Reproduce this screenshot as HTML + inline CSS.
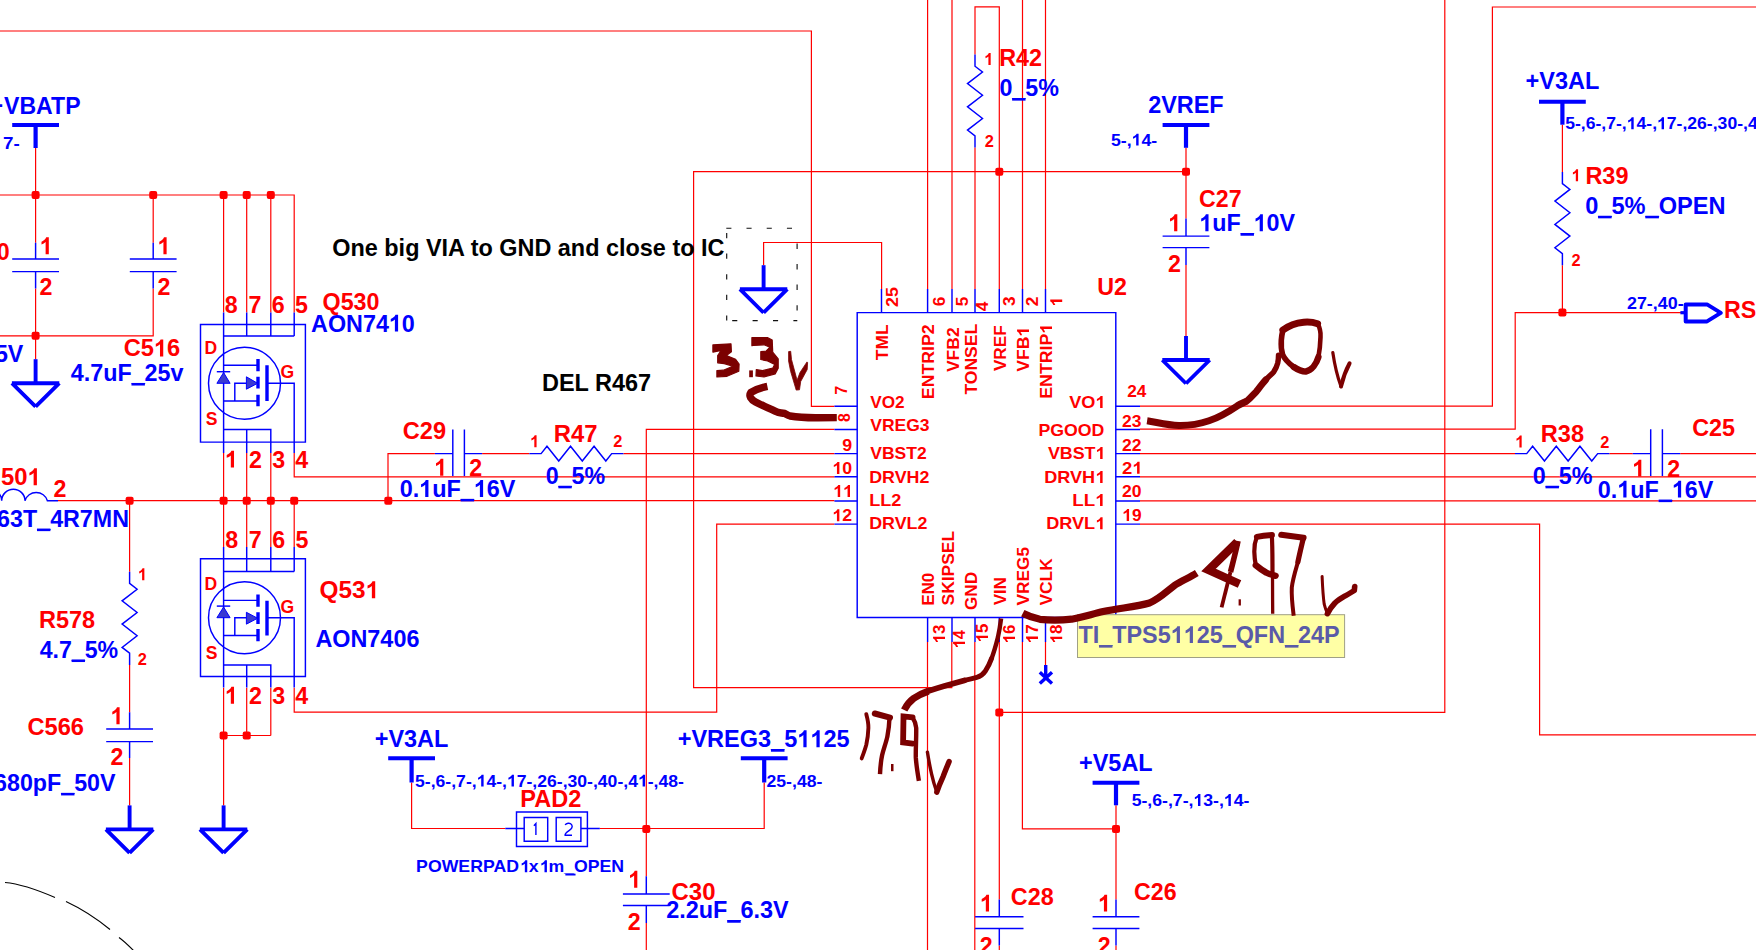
<!DOCTYPE html>
<html><head><meta charset="utf-8"><title>Schematic</title>
<style>
html,body{margin:0;padding:0;background:#fff;overflow:hidden}
svg{display:block}
text{font-family:"Liberation Sans",sans-serif;white-space:pre}
</style></head><body>
<svg width="1756" height="950" viewBox="0 0 1756 950">
<rect width="1756" height="950" fill="#ffffff"/>
<path d="M0,31H811.4V406.3H834.4M35.6,148V242.7M35.6,288.4V359.2M0,195H294.2V312.6M153.2,195V242.7M153.2,288.4V335.8H0M223.6,195V312.6M246.7,195V312.6M270.8,195V312.6M223.6,453V547M246.7,453V547M270.8,453V547M294.2,453V476.9H834.4M294.2,500.7V547M58,500.7H834.4M129.6,500.7V571.7M129.6,664.9V712.3M129.6,758V805.4M246.7,687.8V735.5M270.8,687.8V735.5M223.6,687.8V805.4M223.6,735.5H270.8M294.2,687.8V712.2H716.7V524.1H834.4M388,500.7V453.6H434.9M482.1,453.6H529.4M623.4,453.6H834.4M834.4,429.4H646.3V876.2M646.3,923V950M1186,171.7H693.6V687.7H951.8V642M763.6,265.2V242.5H881.6V288.9M927.6,0V289M952,0V289M975,54.5V6.9H999.3V289M975,147.6V289M1022.5,0V289M1045.5,0V289M1186,147.8V218.4M1186,265V336M1140,406.2H1492.4V7H1756M1140,429.2H1515.2V312.6H1684M1140,453.6H1515M1609.4,453.6H1632.8M1680.2,453.6H1756M1140,476.8H1756M1140,500.9H1756M1140,524.1H1539.6V734.8H1756M1444.8,0V712.4H999.3M1562.4,124.7V171.9M1562.4,265.3V312.6M927.5,642V950M974.8,642V950M999.3,642V899.5M999.3,945.5V950M1022.4,642V828.9H1116M1045.5,642V665M1116,805.3V899.5M1116,945.5V950M411.6,782.5V828.5H505.3M599.8,828.5H764.2V782.5" stroke="#ff0000" stroke-width="1.2" fill="none" />
<rect x="31.60" y="191.00" width="8.0" height="8.0" rx="2" fill="#ff0000"/>
<rect x="149.20" y="191.00" width="8.0" height="8.0" rx="2" fill="#ff0000"/>
<rect x="219.60" y="191.00" width="8.0" height="8.0" rx="2" fill="#ff0000"/>
<rect x="242.70" y="191.00" width="8.0" height="8.0" rx="2" fill="#ff0000"/>
<rect x="266.80" y="191.00" width="8.0" height="8.0" rx="2" fill="#ff0000"/>
<rect x="31.60" y="331.80" width="8.0" height="8.0" rx="2" fill="#ff0000"/>
<rect x="125.60" y="496.70" width="8.0" height="8.0" rx="2" fill="#ff0000"/>
<rect x="219.60" y="496.70" width="8.0" height="8.0" rx="2" fill="#ff0000"/>
<rect x="242.70" y="496.70" width="8.0" height="8.0" rx="2" fill="#ff0000"/>
<rect x="266.80" y="496.70" width="8.0" height="8.0" rx="2" fill="#ff0000"/>
<rect x="290.20" y="496.70" width="8.0" height="8.0" rx="2" fill="#ff0000"/>
<rect x="384.30" y="496.70" width="8.0" height="8.0" rx="2" fill="#ff0000"/>
<rect x="219.60" y="731.50" width="8.0" height="8.0" rx="2" fill="#ff0000"/>
<rect x="242.70" y="731.50" width="8.0" height="8.0" rx="2" fill="#ff0000"/>
<rect x="642.30" y="825.00" width="8.0" height="8.0" rx="2" fill="#ff0000"/>
<rect x="995.30" y="167.70" width="8.0" height="8.0" rx="2" fill="#ff0000"/>
<rect x="1182.00" y="167.70" width="8.0" height="8.0" rx="2" fill="#ff0000"/>
<rect x="1558.40" y="308.60" width="8.0" height="8.0" rx="2" fill="#ff0000"/>
<rect x="995.30" y="708.40" width="8.0" height="8.0" rx="2" fill="#ff0000"/>
<rect x="1112.00" y="824.90" width="8.0" height="8.0" rx="2" fill="#ff0000"/>
<path d="M12.200000000000003,125H59.0" stroke="#0000ff" stroke-width="4" fill="none" />
<path d="M35.6,125V148" stroke="#0000ff" stroke-width="4.2" fill="none" />
<path d="M1162.6,125H1209.4" stroke="#0000ff" stroke-width="4" fill="none" />
<path d="M1186,125V147.8" stroke="#0000ff" stroke-width="4.2" fill="none" />
<path d="M1539.0,101.8H1585.8000000000002" stroke="#0000ff" stroke-width="4" fill="none" />
<path d="M1562.4,101.8V124.7" stroke="#0000ff" stroke-width="4.2" fill="none" />
<path d="M388.20000000000005,758.3H435.0" stroke="#0000ff" stroke-width="4" fill="none" />
<path d="M411.6,758.3V782.5" stroke="#0000ff" stroke-width="4.2" fill="none" />
<path d="M740.8000000000001,758.3H787.6" stroke="#0000ff" stroke-width="4" fill="none" />
<path d="M764.2,758.3V782.5" stroke="#0000ff" stroke-width="4.2" fill="none" />
<path d="M1092.6,782.8H1139.4" stroke="#0000ff" stroke-width="4" fill="none" />
<path d="M1116,782.8V805.3" stroke="#0000ff" stroke-width="4.2" fill="none" />
<path d="M35.6,359.2V383.2" stroke="#0000ff" stroke-width="3.9" fill="none" />
<path d="M11.900000000000002,383.2H59.3M11.900000000000002,383.2L35.6,406.7M59.3,383.2L35.6,406.7" stroke="#0000ff" stroke-width="3.85" fill="none" />
<path d="M763.6,265.2V289.2" stroke="#0000ff" stroke-width="3.9" fill="none" />
<path d="M739.9,289.2H787.3000000000001M739.9,289.2L763.6,312.7M787.3000000000001,289.2L763.6,312.7" stroke="#0000ff" stroke-width="3.85" fill="none" />
<path d="M1186,336V360" stroke="#0000ff" stroke-width="3.9" fill="none" />
<path d="M1162.3,360H1209.7M1162.3,360L1186,383.5M1209.7,360L1186,383.5" stroke="#0000ff" stroke-width="3.85" fill="none" />
<path d="M129.6,805.4V829.4" stroke="#0000ff" stroke-width="3.9" fill="none" />
<path d="M105.89999999999999,829.4H153.29999999999998M105.89999999999999,829.4L129.6,852.9M153.29999999999998,829.4L129.6,852.9" stroke="#0000ff" stroke-width="3.85" fill="none" />
<path d="M223.6,805.4V829.4" stroke="#0000ff" stroke-width="3.9" fill="none" />
<path d="M199.9,829.4H247.29999999999998M199.9,829.4L223.6,852.9M247.29999999999998,829.4L223.6,852.9" stroke="#0000ff" stroke-width="3.85" fill="none" />
<path d="M35.6,242.7V259M12.200000000000003,259H59.0M12.200000000000003,271.6H59.0M35.6,271.6V288.4" stroke="#0000ff" stroke-width="1.45" fill="none" />
<path d="M153.2,242.7V259M129.79999999999998,259H176.6M129.79999999999998,271.6H176.6M153.2,271.6V288.4" stroke="#0000ff" stroke-width="1.45" fill="none" />
<path d="M129.6,712.3V729M106.19999999999999,729H153.0M106.19999999999999,741.6H153.0M129.6,741.6V758" stroke="#0000ff" stroke-width="1.45" fill="none" />
<path d="M1186,218.4V236.1M1162.6,236.1H1209.4M1162.6,247.6H1209.4M1186,247.6V265" stroke="#0000ff" stroke-width="1.45" fill="none" />
<path d="M646.3,876.2V893.9M622.9,893.9H669.6999999999999M622.9,905.5H669.6999999999999M646.3,905.5V923" stroke="#0000ff" stroke-width="1.45" fill="none" />
<path d="M999.3,899.5V916.7M975.0999999999999,916.7H1023.5M975.0999999999999,928.5H1023.5M999.3,928.5V945.5" stroke="#0000ff" stroke-width="1.45" fill="none" />
<path d="M1116,899.5V916.7M1092.6,916.7H1139.4M1092.6,928.5H1139.4M1116,928.5V945.5" stroke="#0000ff" stroke-width="1.45" fill="none" />
<path d="M434.9,453.6H452.8M452.8,429.5V476M464.4,429.5V476M464.4,453.6H482.1" stroke="#0000ff" stroke-width="1.45" fill="none" />
<path d="M1632.8,453.6H1650.7M1650.7,429.3V476M1662.4,429.3V476M1662.4,453.6H1680.2" stroke="#0000ff" stroke-width="1.45" fill="none" />
<path d="M129.60,571.70L129.60,583.40L137.10,589.22L122.10,600.85L137.10,612.48L122.10,624.12L137.10,635.75L122.10,647.38L129.60,653.20L129.60,664.90" stroke="#0000ff" stroke-width="1.45" fill="none" stroke-linejoin="miter"/>
<path d="M975.00,54.50L975.00,66.20L982.50,72.01L967.50,83.62L982.50,95.24L967.50,106.86L982.50,118.48L967.50,130.09L975.00,135.90L975.00,147.60" stroke="#0000ff" stroke-width="1.45" fill="none" stroke-linejoin="miter"/>
<path d="M1562.40,171.90L1562.40,183.60L1569.90,189.43L1554.90,201.10L1569.90,212.77L1554.90,224.43L1569.90,236.10L1554.90,247.77L1562.40,253.60L1562.40,265.30" stroke="#0000ff" stroke-width="1.45" fill="none" stroke-linejoin="miter"/>
<path d="M529.40,453.60L541.10,453.60L546.98,446.20L558.75,461.00L570.52,446.20L582.28,461.00L594.05,446.20L605.82,461.00L611.70,453.60L623.40,453.60" stroke="#0000ff" stroke-width="1.45" fill="none" />
<path d="M1515.00,453.60L1526.70,453.60L1532.62,446.20L1544.45,461.00L1556.28,446.20L1568.12,461.00L1579.95,446.20L1591.78,461.00L1597.70,453.60L1609.40,453.60" stroke="#0000ff" stroke-width="1.45" fill="none" />
<path d="M-21.6,500.7A11.65,11.4 0 0 1 1.7,500.7A11.65,11.4 0 0 1 25,500.7A11.65,11.4 0 0 1 47.4,500.7H58" stroke="#0000ff" stroke-width="1.45" fill="none" />
<g transform="translate(0,0)">
<path d="M200.5,324.4H305.4V442.1H200.5Z" stroke="#0000ff" stroke-width="1.45" fill="none" />
<path d="M223.6,312.6V453M246.7,312.6V336M270.8,312.6V336M294.2,312.6V336M223.6,336H294.2" stroke="#0000ff" stroke-width="1.45" fill="none" />
<path d="M223.6,429.5H270.8V453M246.7,429.5V453M267,383.3H294.2V453" stroke="#0000ff" stroke-width="1.45" fill="none" />
<circle cx="244.5" cy="383.3" r="36" stroke="#0000ff" stroke-width="1.45" fill="none"/>
<path d="M258,359V371.2M258,376.8V388.6M258,394.7V406.3M267,365.3V401" stroke="#0000ff" stroke-width="3.4" fill="none" />
<path d="M223.6,365.3H258M223.6,401H258M234.8,401V383.3H246.4" stroke="#0000ff" stroke-width="1.45" fill="none" />
<path d="M246.4,376.8L257.6,383.3L246.4,389.2Z" stroke="#0000ff" stroke-width="1" fill="#3a3ad2" />
<path d="M216.8,371.7H230.2" stroke="#0000ff" stroke-width="1.45" fill="none" />
<path d="M216.9,383.3H230.1L223.6,372.6Z" stroke="#0000ff" stroke-width="1" fill="#3a3ad2" />
<text transform="translate(204.62,354.10) scale(0.9500,1)" font-size="18.5" fill="#ff0000" font-weight="bold">D</text>
<text transform="translate(280.48,378.00) scale(0.9500,1)" font-size="18.5" fill="#ff0000" font-weight="bold">G</text>
<text transform="translate(205.69,424.70) scale(0.9500,1)" font-size="18.5" fill="#ff0000" font-weight="bold">S</text>
</g>
<g transform="translate(0,234.4)">
<path d="M200.5,324.4H305.4V442.1H200.5Z" stroke="#0000ff" stroke-width="1.45" fill="none" />
<path d="M223.6,312.6V453M246.7,312.6V337.1M270.8,312.6V337.1M294.2,312.6V337.1M223.6,337.1H294.2" stroke="#0000ff" stroke-width="1.45" fill="none" />
<path d="M223.6,430.6H270.8V453M246.7,430.6V453M267,383.3H294.2V453" stroke="#0000ff" stroke-width="1.45" fill="none" />
<circle cx="244.5" cy="383.3" r="36" stroke="#0000ff" stroke-width="1.45" fill="none"/>
<path d="M258,360.1V372.3M258,377.90000000000003V389.70000000000005M258,394.7V406.85M267,366.40000000000003V401" stroke="#0000ff" stroke-width="3.4" fill="none" />
<path d="M223.6,365.96000000000004H258M223.6,401H258M234.8,401V383.3H246.4" stroke="#0000ff" stroke-width="1.45" fill="none" />
<path d="M246.4,377.90000000000003L257.6,383.85L246.4,389.75Z" stroke="#0000ff" stroke-width="1" fill="#3a3ad2" />
<path d="M216.8,371.7H230.2" stroke="#0000ff" stroke-width="1.45" fill="none" />
<path d="M216.9,383.3H230.1L223.6,372.6Z" stroke="#0000ff" stroke-width="1" fill="#3a3ad2" />
<text transform="translate(204.62,355.20) scale(0.9500,1)" font-size="18.5" fill="#ff0000" font-weight="bold">D</text>
<text transform="translate(280.48,378.37) scale(0.9500,1)" font-size="18.5" fill="#ff0000" font-weight="bold">G</text>
<text transform="translate(205.69,425.07) scale(0.9500,1)" font-size="18.5" fill="#ff0000" font-weight="bold">S</text>
</g>
<path d="M857.2,312.6H1115.8V617.5H857.2Z" stroke="#0000ff" stroke-width="1.45" fill="none" />
<path d="M834.4,406.3H857.2M1115.8,406.3H1140" stroke="#0000ff" stroke-width="1.45" fill="none" />
<path d="M834.4,429.4H857.2M1115.8,429.4H1140" stroke="#0000ff" stroke-width="1.45" fill="none" />
<path d="M834.4,453.6H857.2M1115.8,453.6H1140" stroke="#0000ff" stroke-width="1.45" fill="none" />
<path d="M834.4,476.8H857.2M1115.8,476.8H1140" stroke="#0000ff" stroke-width="1.45" fill="none" />
<path d="M834.4,500.9H857.2M1115.8,500.9H1140" stroke="#0000ff" stroke-width="1.45" fill="none" />
<path d="M834.4,524.1H857.2M1115.8,524.1H1140" stroke="#0000ff" stroke-width="1.45" fill="none" />
<path d="M881.5,289V312.6" stroke="#0000ff" stroke-width="1.45" fill="none" />
<path d="M927.6,289V312.6" stroke="#0000ff" stroke-width="1.45" fill="none" />
<path d="M952,289V312.6" stroke="#0000ff" stroke-width="1.45" fill="none" />
<path d="M975,289V312.6" stroke="#0000ff" stroke-width="1.45" fill="none" />
<path d="M999.3,289V312.6" stroke="#0000ff" stroke-width="1.45" fill="none" />
<path d="M1022.5,289V312.6" stroke="#0000ff" stroke-width="1.45" fill="none" />
<path d="M1045.5,289V312.6" stroke="#0000ff" stroke-width="1.45" fill="none" />
<path d="M927.6,617.5V642" stroke="#0000ff" stroke-width="1.45" fill="none" />
<path d="M952,617.5V642" stroke="#0000ff" stroke-width="1.45" fill="none" />
<path d="M975,617.5V642" stroke="#0000ff" stroke-width="1.45" fill="none" />
<path d="M999.3,617.5V642" stroke="#0000ff" stroke-width="1.45" fill="none" />
<path d="M1022.5,617.5V642" stroke="#0000ff" stroke-width="1.45" fill="none" />
<path d="M1045.5,617.5V642" stroke="#0000ff" stroke-width="1.45" fill="none" />
<path d="M1045.7,665V677.5M1039.8,672.2L1052,683.4M1052,672.2L1039.8,683.4" stroke="#0000ff" stroke-width="3.4" fill="none" />
<path d="M505.3,828.5H524.2M580.9,828.5H599.8M516.5,812H587.4V846.4H516.5ZM524.2,817.4H547.7V841.3H524.2ZM556.2,817.4H580.9V841.3H556.2Z" stroke="#0000ff" stroke-width="1.45" fill="none" />
<path d="M1680.4,312.7H1685.6" stroke="#0000ff" stroke-width="3.2" fill="none" />
<path d="M1685.7,304.4H1707L1720.8,312.9L1707,321.4H1685.7Z" stroke="#0000ff" stroke-width="4" fill="none" stroke-linejoin="round"/>
<path d="M726.3,228.3H797.2" stroke="#111" stroke-width="1.05" fill="none" stroke-dasharray="5.1 15.1"/>
<path d="M726.7,320.6V228.3" stroke="#111" stroke-width="1.15" fill="none" stroke-dasharray="5.2 15.4"/>
<path d="M797.3,320.6H726.7" stroke="#111" stroke-width="1.05" fill="none" stroke-dasharray="5.1 15.3" stroke-dashoffset="1.2"/>
<path d="M797.1,228.3V320.6" stroke="#111" stroke-width="1.15" fill="none" stroke-dasharray="5.4 15.15" stroke-dashoffset="5.35"/>
<path d="M5,882.5C22,884 40,891 55,897.5M66,901.5C82,909 96,918 110,929.5M119,937.5C124,941 129,946 134,951" stroke="#000000" stroke-width="1.1" fill="none" />
<text transform="translate(4.04,114.00) scale(0.9423,1)" font-size="24.5" fill="#0000ff" font-weight="bold">VBATP</text>
<text transform="translate(-10.48,114.00) scale(0.9500,1)" font-size="24.5" fill="#0000ff" font-weight="bold">+</text>
<text transform="translate(2.99,149.30) scale(1.0899,1)" font-size="17.3" fill="#0000ff" font-weight="bold">7-</text>
<path transform="translate(-16.13,259.60) scale(0.01136,-0.01150)" d="M806,0L525,0L525,1059Q371,915 162,846L162,1101Q272,1137 401,1237.5Q530,1338 578,1472L806,1472Z" fill="#ff0000"/>
<text transform="translate(-45.89,259.60) scale(0.9500,1)" font-size="24.5" fill="#ff0000" font-weight="bold">C5  0</text>
<path transform="translate(39.66,254.30) scale(0.01136,-0.01150)" d="M806,0L525,0L525,1059Q371,915 162,846L162,1101Q272,1137 401,1237.5Q530,1338 578,1472L806,1472Z" fill="#ff0000"/>
<text transform="translate(39.59,294.60) scale(0.9500,1)" font-size="24.5" fill="#ff0000" font-weight="bold">2</text>
<path transform="translate(157.46,254.30) scale(0.01136,-0.01150)" d="M806,0L525,0L525,1059Q371,915 162,846L162,1101Q272,1137 401,1237.5Q530,1338 578,1472L806,1472Z" fill="#ff0000"/>
<text transform="translate(157.49,294.60) scale(0.9500,1)" font-size="24.5" fill="#ff0000" font-weight="bold">2</text>
<text transform="translate(-18.05,361.60) scale(0.9500,1)" font-size="24.5" fill="#0000ff" font-weight="bold">25V</text>
<path transform="translate(153.91,356.40) scale(0.01157,-0.01150)" d="M806,0L525,0L525,1059Q371,915 162,846L162,1101Q272,1137 401,1237.5Q530,1338 578,1472L806,1472Z" fill="#ff0000"/>
<text transform="translate(123.63,356.40) scale(0.9668,1)" font-size="24.5" fill="#ff0000" font-weight="bold">C5  6</text>
<text transform="translate(70.75,381.00) scale(0.9524,1)" font-size="24.5" fill="#0000ff" font-weight="bold">4.7uF_25v</text>
<rect x="131.46" y="382.96" width="13.44" height="2.57" fill="#0000ff"/>
<text transform="translate(224.86,312.90) scale(0.9500,1)" font-size="24.5" fill="#ff0000" font-weight="bold">8</text>
<text transform="translate(248.40,312.90) scale(0.9500,1)" font-size="24.5" fill="#ff0000" font-weight="bold">7</text>
<text transform="translate(271.75,312.90) scale(0.9500,1)" font-size="24.5" fill="#ff0000" font-weight="bold">6</text>
<text transform="translate(295.08,312.90) scale(0.9500,1)" font-size="24.5" fill="#ff0000" font-weight="bold">5</text>
<text transform="translate(322.54,310.10) scale(0.9512,1)" font-size="24.5" fill="#ff0000" font-weight="bold">Q530</text>
<path transform="translate(388.91,331.60) scale(0.01139,-0.01150)" d="M806,0L525,0L525,1059Q371,915 162,846L162,1101Q272,1137 401,1237.5Q530,1338 578,1472L806,1472Z" fill="#0000ff"/>
<text transform="translate(311.12,331.60) scale(0.9522,1)" font-size="24.5" fill="#0000ff" font-weight="bold">AON74  0</text>
<path transform="translate(224.86,467.60) scale(0.01136,-0.01150)" d="M806,0L525,0L525,1059Q371,915 162,846L162,1101Q272,1137 401,1237.5Q530,1338 578,1472L806,1472Z" fill="#ff0000"/>
<text transform="translate(248.89,467.60) scale(0.9500,1)" font-size="24.5" fill="#ff0000" font-weight="bold">2</text>
<text transform="translate(272.37,467.60) scale(0.9500,1)" font-size="24.5" fill="#ff0000" font-weight="bold">3</text>
<text transform="translate(295.25,467.60) scale(0.9500,1)" font-size="24.5" fill="#ff0000" font-weight="bold">4</text>
<path transform="translate(27.51,485.30) scale(0.01165,-0.01150)" d="M806,0L525,0L525,1059Q371,915 162,846L162,1101Q272,1137 401,1237.5Q530,1338 578,1472L806,1472Z" fill="#ff0000"/>
<text transform="translate(0.97,485.30) scale(0.9740,1)" font-size="24.5" fill="#ff0000" font-weight="bold">50  </text>
<text transform="translate(53.59,497.10) scale(0.9500,1)" font-size="24.5" fill="#ff0000" font-weight="bold">2</text>
<text transform="translate(-2.88,526.60) scale(0.9500,1)" font-size="24.5" fill="#0000ff" font-weight="bold">63T_4R7MN</text>
<rect x="37.00" y="528.56" width="13.41" height="2.57" fill="#0000ff"/>
<path transform="translate(137.90,580.30) scale(0.00802,-0.00812)" d="M806,0L525,0L525,1059Q371,915 162,846L162,1101Q272,1137 401,1237.5Q530,1338 578,1472L806,1472Z" fill="#ff0000"/>
<text transform="translate(137.83,664.50) scale(0.9500,1)" font-size="17.3" fill="#ff0000" font-weight="bold">2</text>
<text transform="translate(38.93,627.60) scale(0.9595,1)" font-size="24.5" fill="#ff0000" font-weight="bold">R578</text>
<text transform="translate(39.65,657.50) scale(0.9454,1)" font-size="24.5" fill="#0000ff" font-weight="bold">4.7_5%</text>
<rect x="71.62" y="659.46" width="13.35" height="2.57" fill="#0000ff"/>
<text transform="translate(225.26,547.50) scale(0.9500,1)" font-size="24.5" fill="#ff0000" font-weight="bold">8</text>
<text transform="translate(248.80,547.50) scale(0.9500,1)" font-size="24.5" fill="#ff0000" font-weight="bold">7</text>
<text transform="translate(272.15,547.50) scale(0.9500,1)" font-size="24.5" fill="#ff0000" font-weight="bold">6</text>
<text transform="translate(295.48,547.50) scale(0.9500,1)" font-size="24.5" fill="#ff0000" font-weight="bold">5</text>
<path transform="translate(365.62,598.20) scale(0.01189,-0.01150)" d="M806,0L525,0L525,1059Q371,915 162,846L162,1101Q272,1137 401,1237.5Q530,1338 578,1472L806,1472Z" fill="#ff0000"/>
<text transform="translate(319.60,598.20) scale(0.9937,1)" font-size="24.5" fill="#ff0000" font-weight="bold">Q53  </text>
<text transform="translate(315.42,646.90) scale(0.9549,1)" font-size="24.5" fill="#0000ff" font-weight="bold">AON7406</text>
<path transform="translate(224.86,703.80) scale(0.01136,-0.01150)" d="M806,0L525,0L525,1059Q371,915 162,846L162,1101Q272,1137 401,1237.5Q530,1338 578,1472L806,1472Z" fill="#ff0000"/>
<text transform="translate(248.89,703.80) scale(0.9500,1)" font-size="24.5" fill="#ff0000" font-weight="bold">2</text>
<text transform="translate(272.37,703.80) scale(0.9500,1)" font-size="24.5" fill="#ff0000" font-weight="bold">3</text>
<text transform="translate(295.25,703.80) scale(0.9500,1)" font-size="24.5" fill="#ff0000" font-weight="bold">4</text>
<text transform="translate(27.43,735.00) scale(0.9668,1)" font-size="24.5" fill="#ff0000" font-weight="bold">C566</text>
<path transform="translate(110.46,724.30) scale(0.01136,-0.01150)" d="M806,0L525,0L525,1059Q371,915 162,846L162,1101Q272,1137 401,1237.5Q530,1338 578,1472L806,1472Z" fill="#ff0000"/>
<text transform="translate(110.39,764.60) scale(0.9500,1)" font-size="24.5" fill="#ff0000" font-weight="bold">2</text>
<text transform="translate(-5.97,790.90) scale(0.9500,1)" font-size="24.5" fill="#0000ff" font-weight="bold">680pF_50V</text>
<rect x="61.07" y="792.86" width="13.41" height="2.57" fill="#0000ff"/>
<text transform="translate(332.24,255.60) scale(0.9563,1)" font-size="24.5" fill="#000000" font-weight="bold">One big VIA to GND and close to IC</text>
<text transform="translate(541.93,391.20) scale(0.9591,1)" font-size="24.5" fill="#000000" font-weight="bold">DEL R467</text>
<text transform="translate(402.73,439.20) scale(0.9644,1)" font-size="24.5" fill="#ff0000" font-weight="bold">C29</text>
<path transform="translate(434.16,475.80) scale(0.01136,-0.01150)" d="M806,0L525,0L525,1059Q371,915 162,846L162,1101Q272,1137 401,1237.5Q530,1338 578,1472L806,1472Z" fill="#ff0000"/>
<text transform="translate(469.19,475.80) scale(0.9500,1)" font-size="24.5" fill="#ff0000" font-weight="bold">2</text>
<path transform="translate(419.21,496.90) scale(0.01144,-0.01150)" d="M806,0L525,0L525,1059Q371,915 162,846L162,1101Q272,1137 401,1237.5Q530,1338 578,1472L806,1472Z" fill="#0000ff"/>
<path transform="translate(473.88,496.90) scale(0.01144,-0.01150)" d="M806,0L525,0L525,1059Q371,915 162,846L162,1101Q272,1137 401,1237.5Q530,1338 578,1472L806,1472Z" fill="#0000ff"/>
<text transform="translate(399.67,496.90) scale(0.9561,1)" font-size="24.5" fill="#0000ff" font-weight="bold">0.  uF_  6V</text>
<rect x="460.62" y="498.86" width="13.50" height="2.57" fill="#0000ff"/>
<text transform="translate(553.80,442.10) scale(0.9733,1)" font-size="24.5" fill="#ff0000" font-weight="bold">R47</text>
<path transform="translate(530.10,447.30) scale(0.00802,-0.00812)" d="M806,0L525,0L525,1059Q371,915 162,846L162,1101Q272,1137 401,1237.5Q530,1338 578,1472L806,1472Z" fill="#ff0000"/>
<text transform="translate(613.23,447.30) scale(0.9500,1)" font-size="17.3" fill="#ff0000" font-weight="bold">2</text>
<text transform="translate(545.68,483.80) scale(0.9485,1)" font-size="24.5" fill="#0000ff" font-weight="bold">0_5%</text>
<rect x="558.37" y="485.76" width="13.39" height="2.57" fill="#0000ff"/>
<text transform="translate(999.14,66.10) scale(0.9522,1)" font-size="24.5" fill="#ff0000" font-weight="bold">R42</text>
<text transform="translate(999.38,96.10) scale(0.9517,1)" font-size="24.5" fill="#0000ff" font-weight="bold">0_5%</text>
<rect x="1012.11" y="98.06" width="13.43" height="2.57" fill="#0000ff"/>
<path transform="translate(984.20,65.00) scale(0.00802,-0.00812)" d="M806,0L525,0L525,1059Q371,915 162,846L162,1101Q272,1137 401,1237.5Q530,1338 578,1472L806,1472Z" fill="#ff0000"/>
<text transform="translate(984.73,147.10) scale(0.9500,1)" font-size="17.3" fill="#ff0000" font-weight="bold">2</text>
<text transform="translate(1148.19,113.30) scale(0.9557,1)" font-size="24.5" fill="#0000ff" font-weight="bold">2VREF</text>
<path transform="translate(1131.62,145.60) scale(0.00865,-0.00812)" d="M806,0L525,0L525,1059Q371,915 162,846L162,1101Q272,1137 401,1237.5Q530,1338 578,1472L806,1472Z" fill="#0000ff"/>
<text transform="translate(1110.96,145.60) scale(1.0235,1)" font-size="17.3" fill="#0000ff" font-weight="bold">5-,  4-</text>
<text transform="translate(1199.05,206.60) scale(0.9449,1)" font-size="24.5" fill="#ff0000" font-weight="bold">C27</text>
<path transform="translate(1199.36,231.20) scale(0.01137,-0.01150)" d="M806,0L525,0L525,1059Q371,915 162,846L162,1101Q272,1137 401,1237.5Q530,1338 578,1472L806,1472Z" fill="#0000ff"/>
<path transform="translate(1253.72,231.20) scale(0.01137,-0.01150)" d="M806,0L525,0L525,1059Q371,915 162,846L162,1101Q272,1137 401,1237.5Q530,1338 578,1472L806,1472Z" fill="#0000ff"/>
<text transform="translate(1199.36,231.20) scale(0.9506,1)" font-size="24.5" fill="#0000ff" font-weight="bold">  uF_  0V</text>
<rect x="1240.53" y="233.16" width="13.42" height="2.57" fill="#0000ff"/>
<path transform="translate(1168.16,231.20) scale(0.01136,-0.01150)" d="M806,0L525,0L525,1059Q371,915 162,846L162,1101Q272,1137 401,1237.5Q530,1338 578,1472L806,1472Z" fill="#ff0000"/>
<text transform="translate(1167.89,271.90) scale(0.9500,1)" font-size="24.5" fill="#ff0000" font-weight="bold">2</text>
<text transform="translate(1097.20,294.80) scale(0.9492,1)" font-size="24.5" fill="#ff0000" font-weight="bold">U2</text>
<text transform="translate(1525.61,89.20) scale(0.9594,1)" font-size="24.5" fill="#0000ff" font-weight="bold">+V3AL</text>
<path transform="translate(1626.76,129.30) scale(0.00859,-0.00812)" d="M806,0L525,0L525,1059Q371,915 162,846L162,1101Q272,1137 401,1237.5Q530,1338 578,1472L806,1472Z" fill="#0000ff"/>
<path transform="translate(1657.08,129.30) scale(0.00859,-0.00812)" d="M806,0L525,0L525,1059Q371,915 162,846L162,1101Q272,1137 401,1237.5Q530,1338 578,1472L806,1472Z" fill="#0000ff"/>
<path transform="translate(1788.14,129.30) scale(0.00859,-0.00812)" d="M806,0L525,0L525,1059Q371,915 162,846L162,1101Q272,1137 401,1237.5Q530,1338 578,1472L806,1472Z" fill="#0000ff"/>
<text transform="translate(1565.16,129.30) scale(1.0171,1)" font-size="17.3" fill="#0000ff" font-weight="bold">5-,6-,7-,  4-,  7-,26-,30-,40-,4  -,48-</text>
<text transform="translate(1585.43,184.00) scale(0.9576,1)" font-size="24.5" fill="#ff0000" font-weight="bold">R39</text>
<path transform="translate(1571.60,181.30) scale(0.00802,-0.00812)" d="M806,0L525,0L525,1059Q371,915 162,846L162,1101Q272,1137 401,1237.5Q530,1338 578,1472L806,1472Z" fill="#ff0000"/>
<text transform="translate(1571.43,265.60) scale(0.9500,1)" font-size="17.3" fill="#ff0000" font-weight="bold">2</text>
<text transform="translate(1585.17,213.80) scale(0.9637,1)" font-size="24.5" fill="#0000ff" font-weight="bold">0_5%_OPEN</text>
<rect x="1598.06" y="215.76" width="13.60" height="2.57" fill="#0000ff"/>
<rect x="1645.31" y="215.76" width="13.60" height="2.57" fill="#0000ff"/>
<text transform="translate(1626.98,309.00) scale(1.0332,1)" font-size="17.3" fill="#0000ff" font-weight="bold">27-,40-</text>
<text transform="translate(1723.94,318.30) scale(0.9500,1)" font-size="24.5" fill="#ff0000" font-weight="bold">RSMRST#</text>
<text transform="translate(1540.82,442.40) scale(0.9635,1)" font-size="24.5" fill="#ff0000" font-weight="bold">R38</text>
<path transform="translate(1515.20,447.50) scale(0.00802,-0.00812)" d="M806,0L525,0L525,1059Q371,915 162,846L162,1101Q272,1137 401,1237.5Q530,1338 578,1472L806,1472Z" fill="#ff0000"/>
<text transform="translate(1600.23,447.50) scale(0.9500,1)" font-size="17.3" fill="#ff0000" font-weight="bold">2</text>
<text transform="translate(1532.78,483.80) scale(0.9517,1)" font-size="24.5" fill="#0000ff" font-weight="bold">0_5%</text>
<rect x="1545.51" y="485.76" width="13.43" height="2.57" fill="#0000ff"/>
<text transform="translate(1692.24,436.40) scale(0.9547,1)" font-size="24.5" fill="#ff0000" font-weight="bold">C25</text>
<path transform="translate(1632.16,476.60) scale(0.01136,-0.01150)" d="M806,0L525,0L525,1059Q371,915 162,846L162,1101Q272,1137 401,1237.5Q530,1338 578,1472L806,1472Z" fill="#ff0000"/>
<text transform="translate(1667.19,476.60) scale(0.9500,1)" font-size="24.5" fill="#ff0000" font-weight="bold">2</text>
<path transform="translate(1617.29,497.60) scale(0.01143,-0.01150)" d="M806,0L525,0L525,1059Q371,915 162,846L162,1101Q272,1137 401,1237.5Q530,1338 578,1472L806,1472Z" fill="#0000ff"/>
<path transform="translate(1671.92,497.60) scale(0.01143,-0.01150)" d="M806,0L525,0L525,1059Q371,915 162,846L162,1101Q272,1137 401,1237.5Q530,1338 578,1472L806,1472Z" fill="#0000ff"/>
<text transform="translate(1597.77,497.60) scale(0.9553,1)" font-size="24.5" fill="#0000ff" font-weight="bold">0.  uF_  6V</text>
<rect x="1658.67" y="499.56" width="13.48" height="2.57" fill="#0000ff"/>
<text transform="translate(374.71,747.00) scale(0.9581,1)" font-size="24.5" fill="#0000ff" font-weight="bold">+V3AL</text>
<path transform="translate(476.68,786.60) scale(0.00859,-0.00812)" d="M806,0L525,0L525,1059Q371,915 162,846L162,1101Q272,1137 401,1237.5Q530,1338 578,1472L806,1472Z" fill="#0000ff"/>
<path transform="translate(507.01,786.60) scale(0.00859,-0.00812)" d="M806,0L525,0L525,1059Q371,915 162,846L162,1101Q272,1137 401,1237.5Q530,1338 578,1472L806,1472Z" fill="#0000ff"/>
<path transform="translate(638.12,786.60) scale(0.00859,-0.00812)" d="M806,0L525,0L525,1059Q371,915 162,846L162,1101Q272,1137 401,1237.5Q530,1338 578,1472L806,1472Z" fill="#0000ff"/>
<text transform="translate(415.06,786.60) scale(1.0174,1)" font-size="17.3" fill="#0000ff" font-weight="bold">5-,6-,7-,  4-,  7-,26-,30-,40-,4  -,48-</text>
<text transform="translate(520.32,807.10) scale(0.9628,1)" font-size="24.5" fill="#ff0000" font-weight="bold">PAD2</text>
<path transform="translate(520.29,872.30) scale(0.00864,-0.00812)" d="M806,0L525,0L525,1059Q371,915 162,846L162,1101Q272,1137 401,1237.5Q530,1338 578,1472L806,1472Z" fill="#0000ff"/>
<path transform="translate(539.96,872.30) scale(0.00864,-0.00812)" d="M806,0L525,0L525,1059Q371,915 162,846L162,1101Q272,1137 401,1237.5Q530,1338 578,1472L806,1472Z" fill="#0000ff"/>
<text transform="translate(416.12,872.30) scale(1.0224,1)" font-size="17.3" fill="#0000ff" font-weight="bold">POWERPAD  x  m_OPEN</text>
<rect x="565.35" y="873.68" width="10.19" height="1.82" fill="#0000ff"/>
<path d="M533.9,825.8L535.9,823.5V834.9" stroke="#0000ff" stroke-width="1.4" fill="none" />
<path d="M565.2,825C566,823.2 570,822.4 571.6,824.6C573.2,826.8 571.4,829 569,830.6C566.4,832.3 564.7,833.6 565.1,835.3H572" stroke="#0000ff" stroke-width="1.4" fill="none" />
<path transform="translate(797.34,747.20) scale(0.01148,-0.01150)" d="M806,0L525,0L525,1059Q371,915 162,846L162,1101Q272,1137 401,1237.5Q530,1338 578,1472L806,1472Z" fill="#0000ff"/>
<path transform="translate(810.42,747.20) scale(0.01148,-0.01150)" d="M806,0L525,0L525,1059Q371,915 162,846L162,1101Q272,1137 401,1237.5Q530,1338 578,1472L806,1472Z" fill="#0000ff"/>
<text transform="translate(677.71,747.20) scale(0.9599,1)" font-size="24.5" fill="#0000ff" font-weight="bold">+VREG3_5    25</text>
<rect x="770.94" y="749.16" width="13.55" height="2.57" fill="#0000ff"/>
<text transform="translate(766.49,786.60) scale(1.0201,1)" font-size="17.3" fill="#0000ff" font-weight="bold">25-,48-</text>
<path transform="translate(628.16,887.80) scale(0.01136,-0.01150)" d="M806,0L525,0L525,1059Q371,915 162,846L162,1101Q272,1137 401,1237.5Q530,1338 578,1472L806,1472Z" fill="#ff0000"/>
<text transform="translate(627.79,929.60) scale(0.9500,1)" font-size="24.5" fill="#ff0000" font-weight="bold">2</text>
<text transform="translate(671.52,899.80) scale(0.9782,1)" font-size="24.5" fill="#ff0000" font-weight="bold">C30</text>
<text transform="translate(666.19,918.20) scale(0.9567,1)" font-size="24.5" fill="#0000ff" font-weight="bold">2.2uF_6.3V</text>
<rect x="727.17" y="920.16" width="13.50" height="2.57" fill="#0000ff"/>
<text transform="translate(1079.12,771.10) scale(0.9554,1)" font-size="24.5" fill="#0000ff" font-weight="bold">+V5AL</text>
<path transform="translate(1193.47,806.00) scale(0.00862,-0.00812)" d="M806,0L525,0L525,1059Q371,915 162,846L162,1101Q272,1137 401,1237.5Q530,1338 578,1472L806,1472Z" fill="#0000ff"/>
<path transform="translate(1223.89,806.00) scale(0.00862,-0.00812)" d="M806,0L525,0L525,1059Q371,915 162,846L162,1101Q272,1137 401,1237.5Q530,1338 578,1472L806,1472Z" fill="#0000ff"/>
<text transform="translate(1131.66,806.00) scale(1.0205,1)" font-size="17.3" fill="#0000ff" font-weight="bold">5-,6-,7-,  3-,  4-</text>
<path transform="translate(979.86,911.60) scale(0.01136,-0.01150)" d="M806,0L525,0L525,1059Q371,915 162,846L162,1101Q272,1137 401,1237.5Q530,1338 578,1472L806,1472Z" fill="#ff0000"/>
<text transform="translate(979.69,953.60) scale(0.9500,1)" font-size="24.5" fill="#ff0000" font-weight="bold">2</text>
<text transform="translate(1010.84,904.80) scale(0.9540,1)" font-size="24.5" fill="#ff0000" font-weight="bold">C28</text>
<path transform="translate(1097.96,911.60) scale(0.01136,-0.01150)" d="M806,0L525,0L525,1059Q371,915 162,846L162,1101Q272,1137 401,1237.5Q530,1338 578,1472L806,1472Z" fill="#ff0000"/>
<text transform="translate(1097.79,953.60) scale(0.9500,1)" font-size="24.5" fill="#ff0000" font-weight="bold">2</text>
<text transform="translate(1134.05,900.10) scale(0.9476,1)" font-size="24.5" fill="#ff0000" font-weight="bold">C26</text>
<text transform="translate(870.28,407.90) scale(0.9939,1)" font-size="17.3" fill="#ff0000" font-weight="bold">VO2</text>
<text transform="translate(870.28,431.30) scale(1.0120,1)" font-size="17.3" fill="#ff0000" font-weight="bold">VREG3</text>
<text transform="translate(870.28,458.90) scale(1.0118,1)" font-size="17.3" fill="#ff0000" font-weight="bold">VBST2</text>
<text transform="translate(869.21,482.90) scale(1.0319,1)" font-size="17.3" fill="#ff0000" font-weight="bold">DRVH2</text>
<text transform="translate(869.19,505.90) scale(1.0447,1)" font-size="17.3" fill="#ff0000" font-weight="bold">LL2</text>
<text transform="translate(869.21,529.30) scale(1.0316,1)" font-size="17.3" fill="#ff0000" font-weight="bold">DRVL2</text>
<path transform="translate(1095.47,407.90) scale(0.00885,-0.00812)" d="M806,0L525,0L525,1059Q371,915 162,846L162,1101Q272,1137 401,1237.5Q530,1338 578,1472L806,1472Z" fill="#ff0000"/>
<text transform="translate(1069.28,407.90) scale(1.0478,1)" font-size="17.3" fill="#ff0000" font-weight="bold">VO  </text>
<text transform="translate(1038.42,435.90) scale(1.0237,1)" font-size="17.3" fill="#ff0000" font-weight="bold">PGOOD</text>
<path transform="translate(1095.56,458.90) scale(0.00873,-0.00812)" d="M806,0L525,0L525,1059Q371,915 162,846L162,1101Q272,1137 401,1237.5Q530,1338 578,1472L806,1472Z" fill="#ff0000"/>
<text transform="translate(1047.88,458.90) scale(1.0335,1)" font-size="17.3" fill="#ff0000" font-weight="bold">VBST  </text>
<path transform="translate(1095.48,482.90) scale(0.00884,-0.00812)" d="M806,0L525,0L525,1059Q371,915 162,846L162,1101Q272,1137 401,1237.5Q530,1338 578,1472L806,1472Z" fill="#ff0000"/>
<text transform="translate(1044.19,482.90) scale(1.0463,1)" font-size="17.3" fill="#ff0000" font-weight="bold">DRVH  </text>
<path transform="translate(1095.23,505.90) scale(0.00915,-0.00812)" d="M806,0L525,0L525,1059Q371,915 162,846L162,1101Q272,1137 401,1237.5Q530,1338 578,1472L806,1472Z" fill="#ff0000"/>
<text transform="translate(1072.35,505.90) scale(1.0826,1)" font-size="17.3" fill="#ff0000" font-weight="bold">LL  </text>
<path transform="translate(1095.47,529.30) scale(0.00884,-0.00812)" d="M806,0L525,0L525,1059Q371,915 162,846L162,1101Q272,1137 401,1237.5Q530,1338 578,1472L806,1472Z" fill="#ff0000"/>
<text transform="translate(1046.19,529.30) scale(1.0466,1)" font-size="17.3" fill="#ff0000" font-weight="bold">DRVL  </text>
<text transform="translate(842.18,450.70) scale(1.0263,1)" font-size="17.3" fill="#ff0000" font-weight="bold">9</text>
<path transform="translate(832.40,473.90) scale(0.00866,-0.00812)" d="M806,0L525,0L525,1059Q371,915 162,846L162,1101Q272,1137 401,1237.5Q530,1338 578,1472L806,1472Z" fill="#ff0000"/>
<text transform="translate(832.40,473.90) scale(1.0254,1)" font-size="17.3" fill="#ff0000" font-weight="bold">  0</text>
<path transform="translate(833.20,496.90) scale(0.00864,-0.00812)" d="M806,0L525,0L525,1059Q371,915 162,846L162,1101Q272,1137 401,1237.5Q530,1338 578,1472L806,1472Z" fill="#ff0000"/>
<path transform="translate(843.04,496.90) scale(0.00864,-0.00812)" d="M806,0L525,0L525,1059Q371,915 162,846L162,1101Q272,1137 401,1237.5Q530,1338 578,1472L806,1472Z" fill="#ff0000"/>
<path transform="translate(832.40,521.30) scale(0.00865,-0.00812)" d="M806,0L525,0L525,1059Q371,915 162,846L162,1101Q272,1137 401,1237.5Q530,1338 578,1472L806,1472Z" fill="#ff0000"/>
<text transform="translate(832.40,521.30) scale(1.0243,1)" font-size="17.3" fill="#ff0000" font-weight="bold">  2</text>
<text transform="translate(1127.20,396.70) scale(0.9973,1)" font-size="17.3" fill="#ff0000" font-weight="bold">24</text>
<text transform="translate(1122.09,426.60) scale(1.0101,1)" font-size="17.3" fill="#ff0000" font-weight="bold">23</text>
<text transform="translate(1122.09,450.60) scale(1.0139,1)" font-size="17.3" fill="#ff0000" font-weight="bold">22</text>
<path transform="translate(1132.33,473.80) scale(0.00902,-0.00812)" d="M806,0L525,0L525,1059Q371,915 162,846L162,1101Q272,1137 401,1237.5Q530,1338 578,1472L806,1472Z" fill="#ff0000"/>
<text transform="translate(1122.06,473.80) scale(1.0676,1)" font-size="17.3" fill="#ff0000" font-weight="bold">2  </text>
<text transform="translate(1122.09,496.80) scale(1.0149,1)" font-size="17.3" fill="#ff0000" font-weight="bold">20</text>
<path transform="translate(1122.23,520.90) scale(0.00848,-0.00812)" d="M806,0L525,0L525,1059Q371,915 162,846L162,1101Q272,1137 401,1237.5Q530,1338 578,1472L806,1472Z" fill="#ff0000"/>
<text transform="translate(1122.23,520.90) scale(1.0039,1)" font-size="17.3" fill="#ff0000" font-weight="bold">  9</text>
<text transform="translate(847.00,394.70) rotate(-90) scale(0.9362,1.0)" font-size="17.3" fill="#ff0000" font-weight="bold">7</text>
<text transform="translate(850.00,421.90) rotate(-90) scale(0.9133,1.0)" font-size="17.3" fill="#ff0000" font-weight="bold">8</text>
<text transform="translate(888.40,360.20) rotate(-90) scale(1.0052,1.0)" font-size="17.3" fill="#ff0000" font-weight="bold">TML</text>
<text transform="translate(934.40,399.19) rotate(-90) scale(1.0251,1.0)" font-size="17.3" fill="#ff0000" font-weight="bold">ENTRIP2</text>
<text transform="translate(959.00,372.12) rotate(-90) scale(1.0136,1.0)" font-size="17.3" fill="#ff0000" font-weight="bold">VFB2</text>
<text transform="translate(977.00,394.60) rotate(-90) scale(1.0139,1.0)" font-size="17.3" fill="#ff0000" font-weight="bold">TONSEL</text>
<text transform="translate(1006.00,371.12) rotate(-90) scale(0.9915,1.0)" font-size="17.3" fill="#ff0000" font-weight="bold">VREF</text>
<path transform="translate(1029.00,371.72) rotate(-90) scale(1.0172,1.0) translate(34.600,0) scale(0.00845,-0.00812)" d="M806,0L525,0L525,1059Q371,915 162,846L162,1101Q272,1137 401,1237.5Q530,1338 578,1472L806,1472Z" fill="#ff0000"/>
<text transform="translate(1029.00,371.72) rotate(-90) scale(1.0172,1.0)" font-size="17.3" fill="#ff0000" font-weight="bold">VFB  </text>
<path transform="translate(1052.00,398.79) rotate(-90) scale(1.0276,1.0) translate(63.439,0) scale(0.00845,-0.00812)" d="M806,0L525,0L525,1059Q371,915 162,846L162,1101Q272,1137 401,1237.5Q530,1338 578,1472L806,1472Z" fill="#ff0000"/>
<text transform="translate(1052.00,398.79) rotate(-90) scale(1.0276,1.0)" font-size="17.3" fill="#ff0000" font-weight="bold">ENTRIP  </text>
<text transform="translate(897.60,307.02) rotate(-90) scale(1.0351,1.0)" font-size="17.3" fill="#ff0000" font-weight="bold">25</text>
<text transform="translate(945.00,306.23) rotate(-90) scale(1.0000,1.0)" font-size="17.3" fill="#ff0000" font-weight="bold">6</text>
<text transform="translate(968.00,306.13) rotate(-90) scale(1.0000,1.0)" font-size="17.3" fill="#ff0000" font-weight="bold">5</text>
<text transform="translate(1015.00,306.00) rotate(-90) scale(1.0000,1.0)" font-size="17.3" fill="#ff0000" font-weight="bold">3</text>
<text transform="translate(1038.00,306.20) rotate(-90) scale(1.0000,1.0)" font-size="17.3" fill="#ff0000" font-weight="bold">2</text>
<path transform="translate(1062.20,306.37) rotate(-90) scale(1.0000,1.0) translate(0.000,0) scale(0.00845,-0.00812)" d="M806,0L525,0L525,1059Q371,915 162,846L162,1101Q272,1137 401,1237.5Q530,1338 578,1472L806,1472Z" fill="#ff0000"/>
<text transform="translate(988.00,311.26) rotate(-90) scale(1.0000,1.0)" font-size="17.3" fill="#ff0000" font-weight="bold">4</text>
<text transform="translate(934.40,605.52) rotate(-90) scale(0.9689,1.0)" font-size="17.3" fill="#ff0000" font-weight="bold">EN0</text>
<text transform="translate(953.60,605.50) rotate(-90) scale(1.0083,1.0)" font-size="17.3" fill="#ff0000" font-weight="bold">SKIPSEL</text>
<text transform="translate(977.00,610.11) rotate(-90) scale(0.9998,1.0)" font-size="17.3" fill="#ff0000" font-weight="bold">GND</text>
<text transform="translate(1006.00,605.11) rotate(-90) scale(0.9653,1.0)" font-size="17.3" fill="#ff0000" font-weight="bold">VIN</text>
<text transform="translate(1029.00,605.52) rotate(-90) scale(0.9991,1.0)" font-size="17.3" fill="#ff0000" font-weight="bold">VREG5</text>
<text transform="translate(1052.00,605.52) rotate(-90) scale(1.0040,1.0)" font-size="17.3" fill="#ff0000" font-weight="bold">VCLK</text>
<path transform="translate(945.00,643.35) rotate(-90) scale(0.9855,1.0) translate(0.000,0) scale(0.00845,-0.00812)" d="M806,0L525,0L525,1059Q371,915 162,846L162,1101Q272,1137 401,1237.5Q530,1338 578,1472L806,1472Z" fill="#ff0000"/>
<text transform="translate(945.00,643.35) rotate(-90) scale(0.9855,1.0)" font-size="17.3" fill="#ff0000" font-weight="bold">  3</text>
<path transform="translate(965.00,648.31) rotate(-90) scale(0.9561,1.0) translate(0.000,0) scale(0.00845,-0.00812)" d="M806,0L525,0L525,1059Q371,915 162,846L162,1101Q272,1137 401,1237.5Q530,1338 578,1472L806,1472Z" fill="#ff0000"/>
<text transform="translate(965.00,648.31) rotate(-90) scale(0.9561,1.0)" font-size="17.3" fill="#ff0000" font-weight="bold">  4</text>
<path transform="translate(988.00,642.34) rotate(-90) scale(0.9774,1.0) translate(0.000,0) scale(0.00845,-0.00812)" d="M806,0L525,0L525,1059Q371,915 162,846L162,1101Q272,1137 401,1237.5Q530,1338 578,1472L806,1472Z" fill="#ff0000"/>
<text transform="translate(988.00,642.34) rotate(-90) scale(0.9774,1.0)" font-size="17.3" fill="#ff0000" font-weight="bold">  5</text>
<path transform="translate(1015.00,643.35) rotate(-90) scale(0.9855,1.0) translate(0.000,0) scale(0.00845,-0.00812)" d="M806,0L525,0L525,1059Q371,915 162,846L162,1101Q272,1137 401,1237.5Q530,1338 578,1472L806,1472Z" fill="#ff0000"/>
<text transform="translate(1015.00,643.35) rotate(-90) scale(0.9855,1.0)" font-size="17.3" fill="#ff0000" font-weight="bold">  6</text>
<path transform="translate(1038.00,643.36) rotate(-90) scale(0.9933,1.0) translate(0.000,0) scale(0.00845,-0.00812)" d="M806,0L525,0L525,1059Q371,915 162,846L162,1101Q272,1137 401,1237.5Q530,1338 578,1472L806,1472Z" fill="#ff0000"/>
<text transform="translate(1038.00,643.36) rotate(-90) scale(0.9933,1.0)" font-size="17.3" fill="#ff0000" font-weight="bold">  7</text>
<path transform="translate(1062.20,643.34) rotate(-90) scale(0.9803,1.0) translate(0.000,0) scale(0.00845,-0.00812)" d="M806,0L525,0L525,1059Q371,915 162,846L162,1101Q272,1137 401,1237.5Q530,1338 578,1472L806,1472Z" fill="#ff0000"/>
<text transform="translate(1062.20,643.34) rotate(-90) scale(0.9803,1.0)" font-size="17.3" fill="#ff0000" font-weight="bold">  8</text>
<rect x="1077.5" y="614.7" width="267.1" height="42.8" fill="#ffffa5" stroke="#a0a085" stroke-width="1"/>
<path transform="translate(1170.74,643.10) scale(0.01142,-0.01150)" d="M806,0L525,0L525,1059Q371,915 162,846L162,1101Q272,1137 401,1237.5Q530,1338 578,1472L806,1472Z" fill="#5a5aa8"/>
<path transform="translate(1183.75,643.10) scale(0.01142,-0.01150)" d="M806,0L525,0L525,1059Q371,915 162,846L162,1101Q272,1137 401,1237.5Q530,1338 578,1472L806,1472Z" fill="#5a5aa8"/>
<text transform="translate(1078.44,643.10) scale(0.9548,1)" font-size="24.5" fill="#5a5aa8" font-weight="bold">TI_TPS5    25_QFN_24P</text>
<rect x="1098.99" y="645.06" width="13.48" height="2.57" fill="#5a5aa8"/>
<rect x="1222.55" y="645.06" width="13.48" height="2.57" fill="#5a5aa8"/>
<rect x="1284.93" y="645.06" width="13.48" height="2.57" fill="#5a5aa8"/>
<path d="M712.9,344.9L731,343.8L731.4,351.8L726.4,355.6L735.6,359.3L739.1,364L738.8,371.2L727,376.3L716.9,377L716.9,370.6L723.4,370.2L732.8,366.2L724.2,363.6L717.7,362.8L717.7,355.5L721.2,350.4L712.9,352.2Z" fill="#7b0000" stroke="#7b0000" stroke-width="1.2" stroke-linejoin="round"/>
<path d="M751.9,337.5L767.4,337.5L772.2,340L772.7,352L778.2,358.9L778.2,368.2L775.3,373.8L764,377L756,376L756.3,369.6L762.5,370.7L772.8,368L774.8,364.4L767.6,361L760.8,359.5L760.8,351.7L766.2,351L770,347.3L764,344.8L753.6,345.5L751.9,345.6Z" fill="#7b0000" stroke="#7b0000" stroke-width="1.2" stroke-linejoin="round"/>
<rect x="749.2" y="370.4" width="3.7" height="6.8" fill="#7b0000"/>
<path d="M788.6,351.6L790.7,351.3L791.5,359.5L797.1,380.2L800,372.5L807,361.9L807.6,362.6L807.2,369.6L800.7,381.5L799.5,389.8L796.2,390.1L790.6,371.3L788.6,361Z" fill="#7b0000" stroke="#7b0000" stroke-width="0.8" stroke-linejoin="round"/>
<path d="M767.4,386.4C762,387.5 755,390 750.8,392.5C748.5,396 751,399.5 755.5,402C760,404.5 768,407.5 777.7,412.3C780,413.1 782,412.8 784.5,413.4C786.5,414.4 788,415.5 790,416C798,417.3 808,417.8 818,417.7L836.8,417.6" stroke="#7b0000" stroke-width="7.4" fill="none" stroke-linecap="butt" stroke-linejoin="round"/>
<path d="M1147.1,420.8C1157,422.3 1167,425.3 1179,425.5C1190,425.7 1200,423.8 1209,420.8C1219,417.3 1229,411.5 1237.4,405.8C1241,403.5 1244,402.5 1246.9,401" stroke="#7b0000" stroke-width="7" fill="none" stroke-linecap="butt" stroke-linejoin="round"/>
<path d="M1246.9,401C1250.5,398 1253.5,394.5 1256.3,391.6C1259.5,387.5 1262.5,383.5 1265.8,379.8" stroke="#7b0000" stroke-width="6.8" fill="none" stroke-linecap="round" stroke-linejoin="round"/>
<path d="M1265.8,379.8C1268.5,376.8 1271.5,374.5 1273.7,371.9C1275.7,369 1277,366 1277.7,363.2C1278.3,360.5 1278.5,358 1278.5,355.3" stroke="#7b0000" stroke-width="5.4" fill="none" stroke-linecap="round" stroke-linejoin="round"/>
<path d="M1282.9,330C1289,325.5 1296,323 1303.7,322.2C1309,321.7 1313.5,322.3 1317.6,323.7" stroke="#7b0000" stroke-width="7" fill="none" stroke-linecap="round" stroke-linejoin="round"/>
<path d="M1317.6,323.7C1320,328 1320.8,332.5 1320.5,337.1C1320.3,344 1319.8,350 1318.4,357.1" stroke="#7b0000" stroke-width="4.6" fill="none" stroke-linecap="round" stroke-linejoin="round"/>
<path d="M1318.4,357.1C1316.5,363.5 1312,370 1305.6,371.6C1301.5,371.6 1297.5,369.5 1293.8,367" stroke="#7b0000" stroke-width="6.4" fill="none" stroke-linecap="round" stroke-linejoin="round"/>
<path d="M1293.8,367C1289,363.5 1284.5,359 1282.6,354.5C1281.2,350 1281,345 1281.3,340.3C1281.6,336.5 1282.2,333 1282.9,330" stroke="#7b0000" stroke-width="5.6" fill="none" stroke-linecap="round" stroke-linejoin="round"/>
<path d="M1332.8,352.5C1334.5,364 1337.5,377 1341,386.5" stroke="#7b0000" stroke-width="3.2" fill="none" stroke-linecap="round" stroke-linejoin="round"/>
<path d="M1341,386.5C1343,378 1346,370 1349.6,363.3" stroke="#7b0000" stroke-width="4" fill="none" stroke-linecap="round" stroke-linejoin="round"/>
<path d="M1022.8,613.3C1027,615.5 1033,618 1040,619.3C1050,620.4 1061,620.3 1071.6,619.2C1082,617.3 1092,614.2 1103.2,611.6C1119,608.2 1136,606.8 1149.5,603C1160,598.5 1167,591 1174.7,585.3C1182,580.8 1189.5,577.5 1196.8,573" stroke="#7b0000" stroke-width="7.2" fill="none" stroke-linecap="butt" stroke-linejoin="round"/>
<path d="M1237.2,542L1208.6,570L1239.5,584" stroke="#7b0000" stroke-width="8.4" fill="none" stroke-linecap="butt" stroke-linejoin="miter"/>
<path d="M1238,541C1236,551 1233,562 1230.5,572" stroke="#7b0000" stroke-width="5.6" fill="none" stroke-linecap="butt" stroke-linejoin="round"/>
<path d="M1230.5,572C1227.5,584 1224.5,596 1221.6,607.4" stroke="#7b0000" stroke-width="3.8" fill="none" stroke-linecap="butt" stroke-linejoin="round"/>
<rect x="1238.6" y="599.3" width="2.3" height="6.2" fill="#7b0000"/>
<path d="M1272,535C1266.5,535.3 1261.5,535.8 1256.8,536.8" stroke="#7b0000" stroke-width="5.8" fill="none" stroke-linecap="round" stroke-linejoin="round"/>
<path d="M1256.8,536.8C1254.8,542 1254.2,547 1254.3,551.6C1254.4,556.5 1255,561 1255.8,565.3" stroke="#7b0000" stroke-width="4.2" fill="none" stroke-linecap="round" stroke-linejoin="round"/>
<path d="M1255.8,565.3C1259,568 1262.5,570.5 1266.3,572.6C1269.5,574 1272.5,575 1275.6,575.8" stroke="#7b0000" stroke-width="6.4" fill="none" stroke-linecap="round" stroke-linejoin="round"/>
<path d="M1271.8,535C1272.6,548 1272.4,560 1272.5,572.6" stroke="#7b0000" stroke-width="4.2" fill="none" stroke-linecap="butt" stroke-linejoin="round"/>
<path d="M1272.5,572.6C1272.5,586 1272.6,600 1272.7,613.7" stroke="#7b0000" stroke-width="3.3" fill="none" stroke-linecap="butt" stroke-linejoin="round"/>
<path d="M1281.2,534.8L1303.6,537.8" stroke="#7b0000" stroke-width="6" fill="none" stroke-linecap="round" stroke-linejoin="round"/>
<path d="M1303.4,537.8C1301.5,546 1299.5,554 1297.9,562.1" stroke="#7b0000" stroke-width="5.2" fill="none" stroke-linecap="round" stroke-linejoin="round"/>
<path d="M1297.9,562.1C1295.5,570.5 1292.8,579 1291.8,587.4C1291.3,597 1292.5,606 1293.7,615.8" stroke="#7b0000" stroke-width="4" fill="none" stroke-linecap="butt" stroke-linejoin="round"/>
<path d="M1322.1,576.4C1322.5,586 1323,595.5 1324.2,604.2C1325,607.6 1326.2,610.8 1327.4,613.7" stroke="#7b0000" stroke-width="3" fill="none" stroke-linecap="round" stroke-linejoin="round"/>
<path d="M1327.4,613.7C1329.5,609.5 1332,606 1334.7,603.2C1338,600 1341.5,598 1345.3,595.8C1348.5,594 1351.5,592.3 1354.3,590.5L1354.7,586.5" stroke="#7b0000" stroke-width="5.6" fill="none" stroke-linecap="round" stroke-linejoin="round"/>
<path d="M1001.1,618.4C1000.3,625 999.3,631 997.9,637.4C996,645 994,652 991.6,658.4" stroke="#7b0000" stroke-width="4.4" fill="none" stroke-linecap="butt" stroke-linejoin="round"/>
<path d="M991.6,658.4C989.8,663.5 987.7,667.5 985.3,671.1C983,674.5 980.2,676.5 976.8,677.4C972.5,678.7 968.5,679.3 964.2,680.5" stroke="#7b0000" stroke-width="5" fill="none" stroke-linecap="round" stroke-linejoin="round"/>
<path d="M964.2,680.5C958,682.2 951.5,684 945.3,685.8C939.5,687.5 934,689.2 928.4,691.1" stroke="#7b0000" stroke-width="5.8" fill="none" stroke-linecap="round" stroke-linejoin="round"/>
<path d="M928.4,691.1C923,693 918,695.5 913.7,698.4C909.5,701.5 906.5,705.5 904.2,710" stroke="#7b0000" stroke-width="7" fill="none" stroke-linecap="butt" stroke-linejoin="round"/>
<path d="M866.3,714.2C867.6,719 868.5,723.5 868.4,727.9C868.2,734 867.5,739.5 866.3,744.7C865,749.5 863.3,754 861.7,758.4" stroke="#7b0000" stroke-width="3.9" fill="none" stroke-linecap="round" stroke-linejoin="round"/>
<path d="M874.8,713.5L890,717.7" stroke="#7b0000" stroke-width="6" fill="none" stroke-linecap="round" stroke-linejoin="round"/>
<path d="M889.5,717.8C889.3,724 888.5,730.5 887.4,736.3C886,743 883.5,749 882.1,755.3C880.8,761.5 880.3,768 880,774.2" stroke="#7b0000" stroke-width="4.4" fill="none" stroke-linecap="butt" stroke-linejoin="round"/>
<rect x="891" y="764" width="2.5" height="7.2" fill="#7b0000"/>
<path d="M912.6,717.3L903.5,716.4L903.1,742.4L912.6,743.6" stroke="#7b0000" stroke-width="5.8" fill="none" stroke-linecap="round" stroke-linejoin="miter"/>
<path d="M912.6,717.4C914.5,720.5 915.8,724 916.2,727.9C916.4,738 915.6,748 915.8,757.4C916.3,765.5 917.6,773 918.9,780.9" stroke="#7b0000" stroke-width="4.4" fill="none" stroke-linecap="butt" stroke-linejoin="round"/>
<path d="M927.4,752.1C928.6,759.5 930,767 931.6,774.2C933,780.5 934.8,786.5 936.8,792.1" stroke="#7b0000" stroke-width="3.4" fill="none" stroke-linecap="round" stroke-linejoin="round"/>
<path d="M936.8,792.1C938.7,786.5 940.8,781.5 943.2,776.3C945,771.5 947,766.5 949.1,761.6" stroke="#7b0000" stroke-width="5.4" fill="none" stroke-linecap="round" stroke-linejoin="round"/>
</svg>
</body></html>
